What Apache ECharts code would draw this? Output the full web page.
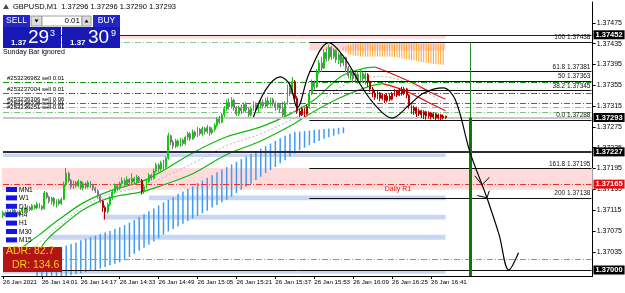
<!DOCTYPE html>
<html>
<head>
<meta charset="utf-8">
<script src="https://cdn.jsdelivr.net/npm/echarts@6/dist/echarts.min.js"></script>
<style>
html, body { margin: 0; padding: 0; background: #fff; }
#chart { width: 625px; height: 293px; }
</style>
</head>
<body>
<div id="chart"></div>
<script>
// prices are kept in points (0.00001) above BASE
var BASE = 1.37;
var FONT = 'Liberation Sans';

var tickLabels = ['26 Jan 2021', '26 Jan 14:01', '26 Jan 14:17', '26 Jan 14:33', '26 Jan 14:49', '26 Jan 15:05',
  '26 Jan 15:21', '26 Jan 15:37', '26 Jan 15:53', '26 Jan 16:09', '26 Jan 16:25', '26 Jan 16:41'];
var priceTicks = [1.37035, 1.37075, 1.37115, 1.37155, 1.37195, 1.37235, 1.37275, 1.37315, 1.37355, 1.37395, 1.37435, 1.37475];

// M1 candles, [open, close, low, high]
var candles = [
  [105,110,100,114],[110,104,101,113],[104,112,102,116],[112,108,105,115],[108,115,106,118],[115,111,108,117],
  [111,106,103,113],[106,113,104,116],[113,118,110,121],[118,112,109,120],[112,120,110,124],[120,116,113,123],
  [116,124,114,127],[124,119,116,126],[119,127,117,131],[127,122,118,129],[122,118,114,125],[118,148,116,152],
  [148,140,136,150],[140,132,128,143],[132,138,126,141],[138,127,122,140],[127,133,120,136],[133,128,124,137],
  [128,136,125,139],[136,165,134,170],[165,186,160,196],[186,172,168,189],[172,160,155,175],[160,168,156,172],
  [168,162,158,171],[162,170,159,174],[170,158,154,172],[158,166,153,170],[166,160,156,169],[160,168,157,172],
  [168,163,158,171],[163,157,152,166],[157,152,148,160],[152,142,138,155],[142,132,128,146],[132,120,112,135],
  [120,112,97,124],[112,126,108,130],[126,138,122,142],[138,150,135,154],[150,162,147,166],[162,158,152,165],
  [158,166,154,170],[166,172,162,178],[172,165,160,176],[165,174,163,180],[174,168,164,177],[168,176,165,186],
  [176,170,166,179],[170,178,167,183],[178,172,168,181],[172,150,145,175],[150,160,146,164],[160,170,157,174],
  [170,182,167,186],[182,176,172,185],[176,190,174,195],[190,202,187,206],[202,194,188,205],[194,206,190,210],
  [206,198,193,212],[198,215,195,218],[215,258,212,264],[258,246,240,260],[246,238,232,250],[238,248,234,252],
  [248,240,236,251],[240,250,237,254],[250,243,238,253],[243,255,240,258],[255,262,250,266],[262,252,248,265],
  [252,265,250,270],[265,258,254,268],[258,270,255,275],[270,262,258,273],[262,272,258,276],[272,266,260,275],
  [266,274,262,279],[274,264,258,276],[264,270,260,274],[270,278,266,282],[278,290,274,294],[290,284,280,296],
  [284,298,282,302],[298,310,294,315],[310,322,306,328],[322,314,308,330],[314,326,310,332],[326,312,306,329],
  [312,300,296,315],[300,312,296,316],[312,306,300,318],[306,318,302,322],[318,308,303,322],[308,298,294,312],
  [298,310,295,314],[310,318,306,324],[318,309,304,322],[309,316,302,320],[316,322,310,326],[322,315,310,328],
  [315,325,312,330],[325,318,312,333],[318,328,314,332],[328,320,315,331],[320,312,306,324],[312,318,308,322],
  [318,310,302,321],[310,298,294,323],[298,320,296,324],[320,350,318,356],[350,340,334,362],[340,362,336,371],
  [362,330,326,365],[330,305,300,334],[305,298,294,310],[298,310,296,314],[310,300,294,312],[300,314,298,318],
  [314,340,310,344],[340,360,336,366],[360,352,346,364],[352,380,350,386],[380,398,376,404],[398,388,380,410],
  [388,418,386,424],[418,406,400,428],[406,428,402,433],[428,410,404,430],[410,422,406,426],[422,404,398,424],
  [404,414,396,418],[414,398,390,418],[398,408,392,412],[408,388,380,410],[388,374,368,392],[374,382,364,386],
  [382,368,360,385],[368,376,362,380],[376,366,358,382],[366,378,362,385],[378,368,360,381],[368,375,356,380],
  [375,362,352,378],[362,348,342,364],[348,340,332,352],[340,332,327,344],[332,340,328,346],[340,330,324,342],
  [330,336,326,340],[336,326,321,338],[326,334,322,340],[334,328,324,338],[328,338,326,342],[338,344,334,348],
  [344,336,332,346],[336,346,334,350],[346,340,335,352],[340,348,336,352],[348,336,330,350],[336,316,310,338],
  [316,306,300,318],[306,312,298,316],[312,300,294,314],[300,306,296,310],[306,298,292,308],[298,304,290,307],
  [304,296,289,306],[296,302,291,305],[302,294,289,304],[294,300,290,303],[300,292,288,302],[292,298,289,301],
  [298,292,288,300],[292,296,289,299],[296,293,290,296]
];
// bars the indicator paints red
var redRanges = [[41, 42], [57, 57], [120, 125], [150, 182]];

// moving average envelope, [bar, points]
var maUpperUp = [[3,16],[8,43],[15,68],[23,97],[33,129],[44,152],[57,170],[65,189],[78,225],[92,256],[106,275],[119,302],[128,327],[139,372],[148,387],[153,390]];
var maUpperDown = [[153,390],[160,377],[170,356],[176,341],[182,328]];
var maLowerUp = [[12,16],[18,58],[25,87],[33,116],[44,139],[57,150],[65,162],[78,185],[92,222],[106,248],[119,279],[128,305],[139,332],[150,352],[156,358]];
var maLowerDown = [[156,358],[165,345],[175,322],[182,306]];
var maMid = [[8,22],[18,66],[25,92],[33,122],[44,146],[57,160],[65,176],[78,205],[92,239],[106,262],[119,290],[128,316],[139,352],[150,370],[156,372],[165,362],[175,340],[182,318]];

// blue histogram, one line every second bar from bar 14
var blueFirst = 14;
var blueTop = [26,30,33,36,40,43,47,50,53,57,60,63,66,69,72,75,79,82,86,91,96,102,107,113,118,124,130,135,140,146,151,156,
  161,167,172,177,182,188,193,198,203,208,213,218,223,228,233,238,243,248,253,258,262,265,266,267,268,269,270,271,272,272,273,274];
var blueBottom = [-20,-20,-20,-20,-18,-15,-12,-10,-8,-6,-4,-2,0,3,6,9,12,15,19,25,31,37,43,49,55,61,68,74,79,84,89,94,
  99,104,109,114,120,125,130,135,141,148,154,160,166,173,179,186,192,198,205,211,218,224,230,235,240,244,248,252,255,258,261,263];

// orange histogram, one line per bar from bar 140
var orangeFirst = 140;
var orangeTop = [428,430,432,433,434,435,435,436,436,436,436,436,436,436,436,436,436,436,436,436,436,
  436,436,436,436,436,436,436,436,436,436,435,435,435,435,435,435,435,434,434,434,434];
var orangeBottom = [422,418,415,413,412,411,411,410,410,410,410,410,410,410,410,410,410,410,410,410,410,
  409,409,408,407,406,405,404,403,403,402,401,400,399,398,398,397,396,396,395,395,394];

// hand-drawn projection path and arrow heads, [bar, points]
var projection = [[103,294],[108,346],[114,371],[118,356],[121,312],[126,379],[134,437],[141,404],[147,356],[153,317],
  [160,292],[167,317],[173,340],[181,350],[186,327],[192,227],[197,164],[199,139],[204,68],[208,0],[212,33]];
var arrowA = [[194,181],[197,164],[200,178]];
var arrowB = [[195,143],[199,139],[200,152]];

// levels
var fibStart = 126;
var fibNames = ['100', '61.8', '50', '38.2', '0.0', '161.8', '200', '300'];
var fibValues = [1.37438, 1.37381, 1.37363, 1.37345, 1.37288, 1.37195, 1.37138, 1.36988];
var sellTickets = ['#253236982 sell 0.01', '#253237004 sell 0.01', '#253236306 sell 0.06', '#253236338 sell 0.01', '#253236251 sell 0.01'];
var sellPrices = [1.37360, 1.37339, 1.37321, 1.37312, 1.37304];
var takeProfit = 1.37437;
var dayHigh = 1.37452;
var bid = 1.37293;
var pivot = 1.37227;
var dailyR1 = 1.37165;
var roundLevel = 1.37000;
var lowTarget = 1.37020;
var entryBar = 192;
// zones, [fromBar, toBar, upper, lower]
var pinkZones = [[0, 182, 1.37449, 1.37445], [126, 182, 1.37437, 1.37422]];
var r1Zone = [1.37196, 1.37154];
var blueZones = [[0, 182, 1.37224, 1.37217], [60, 182, 1.37143, 1.37134], [41, 182, 1.37106, 1.37097], [19, 182, 1.37068, 1.37058], [0, 182, 1.37000, 1.36993]];
var tfNames = ['MN1', 'W1', 'D1', 'H4', 'H1', 'M30', 'M15'];

var N = 243;
var Y_MIN = 1.369885, Y_MAX = 1.37515;

function px(p) { return +(BASE + p / 100000).toFixed(5); }
function pts(list) { return list.map(function (d) { return [d[0], px(d[1])]; }); }
function isRed(i) {
  return redRanges.some(function (r) { return i >= r[0] && i <= r[1]; });
}
function showTick(i) { return i % 16 === 0 && i / 16 < tickLabels.length; }

var cats = [];
for (var i = 0; i < N; i++) cats.push(String(i));

var candleData = candles.map(function (c, i) {
  var item = { value: [px(c[0]), px(c[1]), px(c[2]), px(c[3])] };
  if (isRed(i)) {
    item.itemStyle = { color: '#b00000', color0: '#ff1010', borderColor: '#b00000', borderColor0: '#ff1010' };
  }
  return item;
});

var blueData = blueTop.map(function (t, k) { return [blueFirst + 2 * k, px(blueBottom[k]), px(t)]; });
var orangeData = orangeTop.map(function (t, k) { return [orangeFirst + k, px(orangeBottom[k]), px(t)]; });

function stickRender(color, w) {
  return function (params, api) {
    var a = api.coord([api.value(0), api.value(1)]);
    var b = api.coord([api.value(0), api.value(2)]);
    return { type: 'line', shape: { x1: a[0], y1: a[1], x2: b[0], y2: b[1] }, style: { stroke: color, lineWidth: w } };
  };
}

// a level across the whole chart, drawn between the first and the last slot
function level(v, color, width, type) {
  return [
    { coord: [0, v], lineStyle: { color: color, width: width, type: type }, label: { show: false } },
    { coord: [N - 1, v] }
  ];
}
function boxed(v, color, width, type, bg) {
  var l = level(v, color, width, type);
  l[0].label = { show: true, position: 'end', distance: 2, formatter: v.toFixed(5), backgroundColor: bg, color: '#fff',
    padding: [1, 2, 0, 2], fontSize: 7.5, fontFamily: FONT, fontWeight: 'bold' };
  return l;
}

var areas = [];
pinkZones.forEach(function (z) {
  areas.push([{ coord: [z[0], z[2]], itemStyle: { color: '#ffd6d6' } }, { coord: [z[1], z[3]] }]);
});
areas.push([{ yAxis: r1Zone[0], itemStyle: { color: '#ffdcdc' } }, { yAxis: r1Zone[1] }]);
blueZones.forEach(function (z) {
  areas.push([{ coord: [z[0], z[2]], itemStyle: { color: '#c8d6f4' } }, { coord: [z[1], z[3]] }]);
});

var dashDot = [6, 2, 1, 2];
var lines = [];
lines.push(boxed(dayHigh, '#222', 1, 'solid', '#000'));
lines.push(level(takeProfit, '#8cc88c', 1, dashDot));
sellPrices.forEach(function (p, k) {
  var l = level(p, k < 3 ? '#109a10' : '#7cc47c', 1, dashDot);
  l[0].label = { show: true, position: 'insideStartTop', distance: 1, formatter: sellTickets[k], fontSize: 6,
    fontFamily: FONT, color: '#000', padding: [0, 0, 0, 3] };
  lines.push(l);
});
lines.push(boxed(bid, '#c8c8c8', 2, 'solid', '#000'));
lines.push(boxed(pivot, '#2c2c38', 2, 'solid', '#000'));
lines.push(boxed(dailyR1, '#f03030', 1, dashDot, '#e01010'));
lines.push(level(lowTarget, '#ff7030', 1, dashDot));
lines.push(boxed(roundLevel, '#111', 1, 'solid', '#000'));
fibValues.forEach(function (v, k) {
  lines.push([
    { coord: [fibStart, v], lineStyle: { color: '#111', width: 1, type: 'solid' },
      label: { show: true, position: 'insideEndTop', distance: 1, formatter: fibNames[k] + ' ' + v.toFixed(5),
        fontSize: 6.5, fontFamily: FONT, color: '#111' } },
    { coord: [N - 1, v] }
  ]);
});
lines.push([
  { coord: [entryBar, takeProfit], lineStyle: { color: '#2a8a2a', width: 1, type: 'solid' }, label: { show: false } },
  { coord: [entryBar, bid] }
]);
lines.push([
  { coord: [entryBar, bid], lineStyle: { color: '#0a7a0a', width: 3, type: 'solid' }, label: { show: false } },
  { coord: [entryBar, Y_MIN] }
]);

function lineSeries(data, color, width, type, z) {
  return {
    type: 'line', data: pts(data), smooth: 0.35, symbol: 'none', z: z, silent: true,
    lineStyle: { color: color, width: width, type: type }
  };
}

var graphics = [];
function txt(x, y, s, size, color, extra) {
  var st = { text: s, fontSize: size, fontFamily: FONT, fill: color };
  if (extra) Object.assign(st, extra);
  graphics.push({ type: 'text', x: x, y: y, z: 100, style: st });
}
function box(x, y, w, h, fill, stroke) {
  graphics.push({ type: 'rect', z: 99, shape: { x: x, y: y, width: w, height: h },
    style: { fill: fill, stroke: stroke || null, lineWidth: 1 } });
}

// header and one-click trading panel
graphics.push({ type: 'polygon', z: 100, shape: { points: [[3, 9], [6, 4], [9, 9]] }, style: { fill: '#4a4a4a' } });
txt(13, 3, 'GBPUSD,M1  1.37296 1.37296 1.37290 1.37293', 7.5, '#000');
box(3, 15, 27, 12, '#2626c8');
txt(16.5, 21, 'SELL', 8.5, '#fff', { align: 'center', verticalAlign: 'middle' });
box(31, 16, 11, 10, '#dcdcdc', '#9a9a9a');
graphics.push({ type: 'polygon', z: 100, shape: { points: [[34.5, 19.5], [38.5, 19.5], [36.5, 22.5]] }, style: { fill: '#000' } });
box(42, 16, 40, 10, '#fff', '#a0a0a0');
txt(80, 21, '0.01', 8, '#000', { align: 'right', verticalAlign: 'middle' });
box(82, 16, 9, 10, '#dcdcdc', '#9a9a9a');
graphics.push({ type: 'polygon', z: 100, shape: { points: [[84.5, 22.5], [88.5, 22.5], [86.5, 19.5]] }, style: { fill: '#000' } });
box(93, 15, 27, 12, '#2626c8');
txt(106.5, 21, 'BUY', 8.5, '#fff', { align: 'center', verticalAlign: 'middle' });
box(3, 27, 58, 21, '#1818b4');
box(62, 27, 58, 21, '#1818b4');
txt(11, 39, '1.37', 8, '#fff', { fontWeight: 'bold' });
txt(28, 28, '29', 19, '#fff');
txt(50, 29, '3', 9, '#fff');
txt(70, 39, '1.37', 8, '#fff', { fontWeight: 'bold' });
txt(88, 28, '30', 19, '#fff');
txt(111, 29, '9', 9, '#fff');
txt(3, 49, 'Sunday Bar ignored', 7, '#000');

// timeframe legend
tfNames.forEach(function (n, k) {
  var y = 187 + k * 8.4;
  box(6, y, 11, 5, '#1414e6');
  txt(19, y - 0.5, n, 6.5, '#000');
});

// ADR panel
box(3, 247, 59, 25, '#b41414');
txt(6, 246, 'ADR: 82.7', 10.5, '#f2d21a');
txt(12, 260, 'DR: 134.6', 10.5, '#f2d21a');

txt(398, 186, 'Daily R1', 7, '#e02020', { align: 'center' });

var chart = echarts.init(document.getElementById('chart'), null, { renderer: 'canvas' });
chart.setOption({
  animation: false,
  backgroundColor: '#fff',
  textStyle: { fontFamily: FONT },
  grid: { left: 0, right: 29, top: 2, bottom: 17 },
  xAxis: {
    type: 'category', data: cats, boundaryGap: true,
    axisLine: { show: true, lineStyle: { color: '#000', width: 1 } },
    axisTick: { show: true, alignWithLabel: true, interval: showTick, length: 3, lineStyle: { color: '#000' } },
    axisLabel: {
      interval: showTick, showMinLabel: true, hideOverlap: false, align: 'left', margin: 3, fontSize: 6.2,
      color: '#000', fontFamily: FONT,
      formatter: function (v, idx) { return tickLabels[idx / 16]; }
    },
    splitLine: { show: false }
  },
  yAxis: {
    type: 'value', position: 'right', min: Y_MIN, max: Y_MAX, scale: true,
    axisLine: { show: true, lineStyle: { color: '#000', width: 1 } },
    axisTick: { show: true, length: 3, customValues: priceTicks, lineStyle: { color: '#000' } },
    axisLabel: {
      customValues: priceTicks, margin: 4, fontSize: 7, color: '#000', fontFamily: FONT,
      formatter: function (v) { return v.toFixed(5); }
    },
    splitLine: { show: false }
  },
  graphic: graphics,
  series: [
    { type: 'line', data: [], z: 1, silent: true, markArea: { silent: true, data: areas } },
    { type: 'custom', data: blueData, z: 2, clip: true, silent: true, encode: { x: 0, y: [1, 2] }, renderItem: stickRender('#3f9cf2', 1.5) },
    { type: 'custom', data: orangeData, z: 2, clip: true, silent: true, encode: { x: 0, y: [1, 2] }, renderItem: stickRender('#ffa32e', 1) },
    { type: 'line', data: [], z: 3, silent: true, markLine: { silent: true, symbol: ['none', 'none'], data: lines } },
    lineSeries(maUpperUp, '#10b810', 1.2, 'solid', 4),
    lineSeries(maUpperDown, '#d81818', 1.2, 'solid', 4),
    lineSeries(maLowerUp, '#10b810', 1.2, 'solid', 4),
    lineSeries(maLowerDown, '#d81818', 1.2, 'solid', 4),
    lineSeries(maMid, '#b8b8b8', 1, [2, 2], 4),
    {
      type: 'candlestick', data: candleData, z: 5, barWidth: 1.4, silent: true,
      itemStyle: { color: '#10c810', color0: '#7a7a7a', borderColor: '#10c810', borderColor0: '#7a7a7a', borderWidth: 1 }
    },
    lineSeries(projection, '#000', 1.2, 'solid', 6),
    Object.assign(lineSeries(arrowA, '#000', 1, 'solid', 6), { smooth: false }),
    Object.assign(lineSeries(arrowB, '#000', 1, 'solid', 6), { smooth: false })
  ]
});
</script>
</body>
</html>
